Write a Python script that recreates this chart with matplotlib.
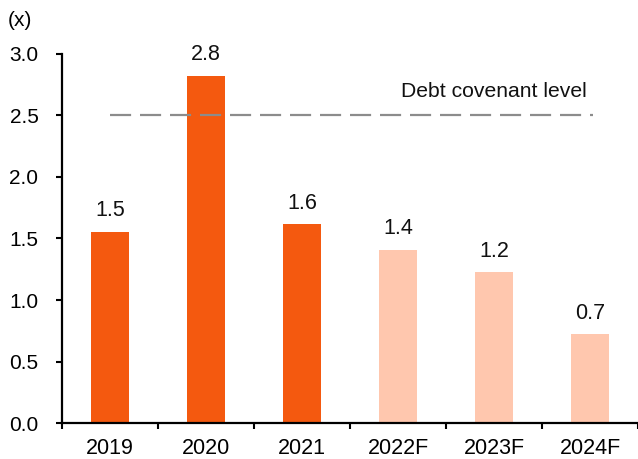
import numpy as np
import matplotlib.pyplot as plt

plt.rcParams['font.family'] = ['Liberation Sans', 'DejaVu Sans']

# data
years = ['2019', '2020', '2021', '2022F', '2023F', '2024F']
ratio = [1.555, 2.824, 1.615, 1.41, 1.228, 0.724]
labels = ['1.5', '2.8', '1.6', '1.4', '1.2', '0.7']
is_forecast = [False, False, False, True, True, True]
covenant = 2.5

dark = '#F4590F'
light = '#FFC7AE'
colors = [light if f else dark for f in is_forecast]

fig = plt.figure(figsize=(6.38, 4.59), dpi=100)
ax = fig.add_axes([0.0972, 0.0784, 0.903, 0.804])

x = np.arange(len(years))
bars = ax.bar(x, ratio, width=0.4, color=colors, zorder=2)

for xi, v, lab in zip(x, ratio, labels):
    ax.annotate(lab, (xi, v), xytext=(0, 7.5), textcoords='offset points',
                ha='center', va='bottom', fontsize=15.5, color='#111111')

# covenant line
ax.plot([x[0], x[-1] + 0.03], [covenant, covenant], color='#8C8C8C', lw=1.6,
        dashes=(9.5, 4), zorder=3)
ax.text(4.0, 2.65, 'Debt covenant level', ha='center', va='baseline',
        fontsize=15.2, color='#111111')

ax.set_xlim(-0.5, len(years) - 0.5)
ax.set_ylim(0, 3.0)
ax.set_yticks(np.arange(0, 3.01, 0.5))
ax.set_yticklabels([f'{t:.1f}' for t in np.arange(0, 3.01, 0.5)])

ax.set_xticks(x)
ax.set_xticklabels(years)
ax.set_xticks(np.arange(-0.5, len(years) + 0.5, 1), minor=True)
ax.tick_params(axis='x', which='major', length=0, pad=11, labelsize=15.5)
ax.tick_params(axis='x', which='minor', length=4.5, width=1.5, direction='out')
ax.tick_params(axis='y', length=4, width=1.5, pad=13, labelsize=15)

for s in ['top', 'right']:
    ax.spines[s].set_visible(False)
for s in ['left', 'bottom']:
    ax.spines[s].set_linewidth(1.6)

fig.text(20 / 638, 1 - 21 / 459, '(x)', ha='center', va='center', fontsize=15)

fig.savefig('out.png', dpi=100)
